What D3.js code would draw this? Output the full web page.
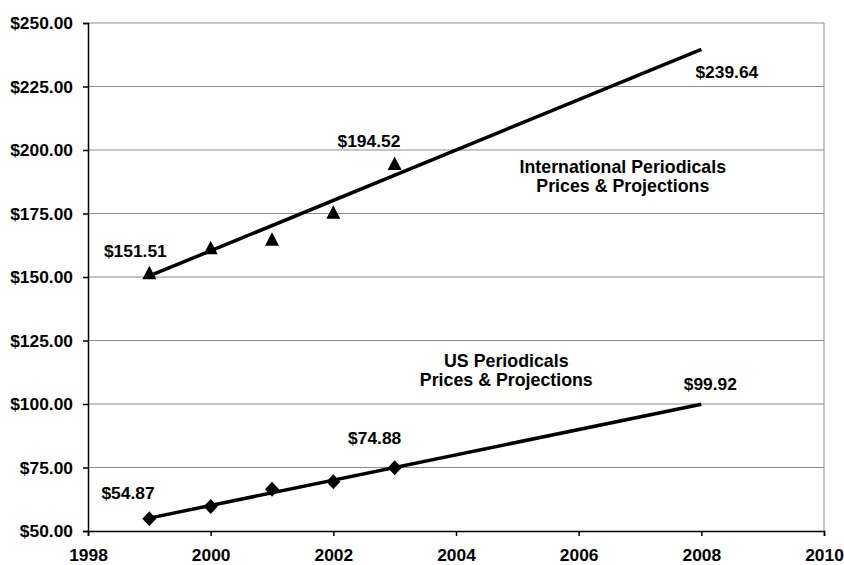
<!DOCTYPE html>
<html><head><meta charset="utf-8">
<script src="https://cdn.jsdelivr.net/npm/d3@7"></script>
<style>body{margin:0;background:#fff}svg{display:block}text{font-family:Arial,"Liberation Sans",sans-serif;font-weight:bold;fill:#000}</style>
</head><body><svg id="c" width="844" height="565"></svg>
<script>
const years = [1999, 2000, 2001, 2002, 2003];
const intlPrices = [151.51, 161.3, 164.7, 175.3, 194.52];
const usPrices = [54.87, 59.6, 66.4, 69.4, 74.88];
const trendYears = [1999, 2008];
const intlTrend = [150.4, 239.64];
const usTrend = [55.07, 99.92];
const xTicks = [1998, 2000, 2002, 2004, 2006, 2008, 2010];
const yTicks = [50, 75, 100, 125, 150, 175, 200, 225, 250];
const dataLabels = [
  {text: "$151.51", year: 1999, value: 151.51},
  {text: "$194.52", year: 2003, value: 194.52},
  {text: "$239.64", year: 2008, value: 239.64},
  {text: "$54.87", year: 1999, value: 54.87},
  {text: "$74.88", year: 2003, value: 74.88},
  {text: "$99.92", year: 2008, value: 99.92}
];
const labelOffsets = [[-14, -16.5], [-25.7, -16.6], [25.5, 29], [-21.3, -19.3], [-20, -23.8], [9, -14]];
const seriesTitles = [
  {lines: ["International Periodicals", "Prices & Projections"], year: 2006.72, value: 190.9},
  {lines: ["US Periodicals", "Prices & Projections"], year: 2004.82, value: 114.4}
];

const svg = d3.select("#c");
const L = 88, R = 824, T = 23, B = 531;
const x = d3.scaleLinear().domain([1998, 2010]).range([L, R]);
const y = d3.scaleLinear().domain([50, 250]).range([B, T]);

// gridlines
svg.append("g").selectAll("line").data(yTicks.filter(d => d > 50)).join("line")
  .attr("x1", L).attr("x2", R).attr("y1", d => y(d)).attr("y2", d => y(d))
  .attr("stroke", "#8c8c8c").attr("stroke-width", 1);
// right border
svg.append("line").attr("x1", R).attr("x2", R).attr("y1", T).attr("y2", B)
  .attr("stroke", "#8c8c8c").attr("stroke-width", 1);

const fmt = d => "$" + d3.format(".2f")(d);
const yAxis = svg.append("g").attr("transform", `translate(${L},0)`)
  .call(d3.axisLeft(y).tickValues(yTicks).tickFormat(fmt).tickSize(5).tickPadding(10));
yAxis.select(".domain").attr("stroke", "#000").attr("stroke-width", 1.5);
yAxis.selectAll(".tick line").attr("stroke", "#000").attr("stroke-width", 1.5);
yAxis.selectAll("text").style("font-size", "17.4px").style("font-family", "Arial, 'Liberation Sans', sans-serif").style("font-weight", "bold").attr("fill", "#000");

const xAxis = svg.append("g").attr("transform", `translate(0,${B})`)
  .call(d3.axisBottom(x).tickValues(xTicks).tickFormat(d3.format("d")).tickSize(5).tickPadding(13));
xAxis.select(".domain").attr("stroke", "#000").attr("stroke-width", 1.5);
xAxis.selectAll(".tick line").attr("stroke", "#000").attr("stroke-width", 1.5);
xAxis.selectAll("text").style("font-size", "17.4px").style("font-family", "Arial, 'Liberation Sans', sans-serif").style("font-weight", "bold").attr("fill", "#000");

const line = d3.line().x(d => x(d[0])).y(d => y(d[1]));
[intlTrend, usTrend].forEach(t => {
  svg.append("path").attr("d", line(trendYears.map((yr, i) => [yr, t[i]])))
    .attr("fill", "none").attr("stroke", "#000").attr("stroke-width", 3.5);
});

const triPath = "M0,-7.5L7,6L-7,6Z";
svg.append("g").selectAll("path").data(years).join("path")
  .attr("d", triPath).attr("transform", (d, i) => `translate(${x(d)},${y(intlPrices[i])})`).attr("fill", "#000");
const diaPath = "M0,-7.5L7,0L0,7.5L-7,0Z";
svg.append("g").selectAll("path").data(years).join("path")
  .attr("d", diaPath).attr("transform", (d, i) => `translate(${x(d)},${y(usPrices[i])})`).attr("fill", "#000");

svg.append("g").selectAll("text").data(dataLabels).join("text")
  .attr("x", (d, i) => x(d.year) + labelOffsets[i][0])
  .attr("y", (d, i) => y(d.value) + labelOffsets[i][1])
  .attr("text-anchor", "middle").style("font-size", "17.4px").text(d => d.text);

seriesTitles.forEach(s => {
  const t = svg.append("text").attr("text-anchor", "middle").style("font-size", "17.8px");
  s.lines.forEach((ln, i) => t.append("tspan").attr("x", x(s.year)).attr("y", y(s.value) + i * 18.5).text(ln));
});
</script></body></html>
